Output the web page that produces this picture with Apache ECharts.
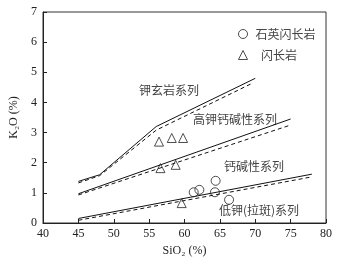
<!DOCTYPE html>
<html><head><meta charset="utf-8">
<script src="https://cdn.jsdelivr.net/npm/echarts@6/dist/echarts.min.js"></script>
<style>html,body{margin:0;padding:0;background:#fff}#c{width:345px;height:262px}</style>
</head><body><div id="c"></div>
<script>
// Boundary lines (SiO2, K2O)
const shoSolidX = [45, 48, 56, 70];
const shoSolidY = [1.38, 1.6, 3.2, 4.8];
const shoDashX = [45, 48, 56, 69.7];
const shoDashY = [1.33, 1.57, 3.08, 4.65];
const hkSolidX = [45, 75];
const hkSolidY = [0.97, 3.45];
const hkDashX = [45, 75];
const hkDashY = [0.93, 3.25];
const lkSolidX = [45, 78];
const lkSolidY = [0.15, 1.62];
const lkDashX = [45, 78];
const lkDashY = [0.09, 1.53];
// Samples
const qdX = [61.3, 62.1, 64.4, 64.3, 66.3];
const qdY = [1.02, 1.1, 1.4, 1.02, 0.77];
const dX = [56.4, 58.2, 59.8, 56.6, 58.75, 59.6];
const dY = [2.7, 2.82, 2.82, 1.82, 1.93, 0.66];
const xTicks = [40, 45, 50, 55, 60, 65, 70, 75, 80];
const yTicks = [0, 1, 2, 3, 4, 5, 6, 7];

const zip = (a, b) => a.map((v, i) => [v, b[i]]);
const serif = '"Liberation Serif","DejaVu Serif",serif';
const cjk = '"Noto Sans CJK SC",sans-serif';

function lineS(x, y, dashed) {
  return {
    type: 'line', data: zip(x, y), symbol: 'none', silent: true,
    lineStyle: { color: '#111', width: 1, type: dashed ? [4, 3] : 'solid' },
    z: 2
  };
}

const chart = echarts.init(document.getElementById('c'));
chart.setOption({
  animation: false,
  grid: { left: 43, right: 19, top: 12, bottom: 39, show: true, borderColor: '#333', borderWidth: 1 },
  xAxis: {
    type: 'value', min: 40, max: 80, interval: 5,
    name: 'SiO₂ (%)', nameLocation: 'middle', nameGap: 16,
    nameTextStyle: { fontFamily: serif, fontSize: 12, color: '#222' },
    axisLine: { show: true, lineStyle: { color: '#222' } },
    axisTick: { show: true, inside: true, length: 4, lineStyle: { color: '#222' } },
    axisLabel: { fontFamily: serif, fontSize: 12, color: '#222', margin: 5,
      formatter: v => xTicks.includes(v) ? String(v) : '' },
    splitLine: { show: false }
  },
  yAxis: {
    type: 'value', min: 0, max: 7, interval: 1,
    name: 'K₂O (%)', nameLocation: 'middle', nameGap: 18, nameRotate: 90,
    nameTextStyle: { fontFamily: serif, fontSize: 12, color: '#222' },
    axisLine: { show: true, lineStyle: { color: '#222' } },
    axisTick: { show: true, inside: true, length: 4, lineStyle: { color: '#222' } },
    axisLabel: { fontFamily: serif, fontSize: 12, color: '#222', margin: 6,
      formatter: v => yTicks.includes(v) ? String(v) : '' },
    splitLine: { show: false }
  },
  legend: {
    orient: 'vertical', left: 238, top: 28, padding: 0, itemWidth: 9, itemHeight: 9, itemGap: 9,
    itemStyle: { borderWidth: 1 },
    textStyle: { fontFamily: cjk, fontSize: 12, color: '#444', padding: [0, 0, 0, 3] },
    data: [
      { name: '石英闪长岩', icon: 'circle' },
      { name: '  闪长岩', icon: 'triangle' }
    ]
  },
  graphic: [
    { type: 'text', left: 139, top: 84, style: { text: '钾玄岩系列', fontFamily: cjk, fontSize: 12, fill: '#444' } },
    { type: 'text', left: 193, top: 113, style: { text: '高钾钙碱性系列', fontFamily: cjk, fontSize: 12, fill: '#444' } },
    { type: 'text', left: 224, top: 160, style: { text: '钙碱性系列', fontFamily: cjk, fontSize: 12, fill: '#444' } },
    { type: 'text', left: 219, top: 204, style: { text: '低钾(拉斑)系列', fontFamily: cjk, fontSize: 12, fill: '#444' } }
  ],
  series: [
    lineS(shoSolidX, shoSolidY, false),
    lineS(shoDashX, shoDashY, true),
    lineS(hkSolidX, hkSolidY, false),
    lineS(hkDashX, hkDashY, true),
    lineS(lkSolidX, lkSolidY, false),
    lineS(lkDashX, lkDashY, true),
    {
      name: '石英闪长岩', type: 'scatter', data: zip(qdX, qdY), symbol: 'circle', symbolSize: 9,
      itemStyle: { color: 'rgba(255,255,255,0)', borderColor: '#222', borderWidth: 1 }, z: 5
    },
    {
      name: '  闪长岩', type: 'scatter', data: zip(dX, dY), symbol: 'triangle', symbolSize: 9,
      itemStyle: { color: 'rgba(255,255,255,0)', borderColor: '#222', borderWidth: 1 }, z: 5
    }
  ]
});
</script></body></html>
